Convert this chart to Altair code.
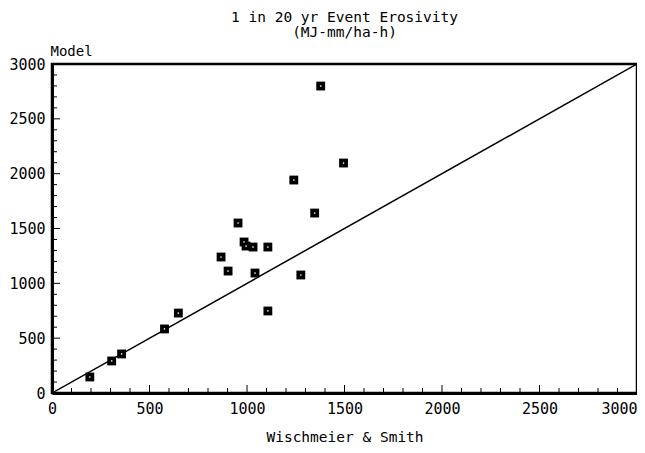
import altair as alt
import pandas as pd

# Data
ws = [194, 306, 357, 577, 648, 867, 903, 954, 985, 995, 1031, 1107, 1041, 1107, 1240, 1347, 1276, 1378, 1495]
model = [146, 292, 356, 584, 729, 1240, 1112, 1550, 1377, 1340, 1331, 1331, 1094, 748, 1942, 1641, 1076, 2799, 2097]
line_v = [0, 3000]
major_ticks = [0, 500, 1000, 1500, 2000, 2500, 3000]
minor_ticks = [100, 200, 300, 400, 600, 700, 800, 900, 1100, 1200, 1300, 1400,
               1600, 1700, 1800, 1900, 2100, 2200, 2300, 2400, 2600, 2700, 2800, 2900]

W, H = 585, 329
FONT = "DejaVu Sans Mono"

pts = pd.DataFrame({"x": ws, "y": model})
ln = pd.DataFrame({"x": line_v, "y": line_v})
mj = pd.DataFrame({"v": major_ticks})
mn = pd.DataFrame({"v": minor_ticks})

sx = alt.Scale(domain=[0, 3000], nice=False, zero=False)
sy = alt.Scale(domain=[0, 3000], nice=False, zero=False)

xaxis = alt.Axis(values=major_ticks, format="d", ticks=False, grid=False, domainColor="black",
                 domainWidth=3, labelFont=FONT, labelFontSize=15, labelColor="black",
                 labelPadding=8, title="Wischmeier & Smith", titleFont=FONT,
                 titleFontSize=14.5, titleFontWeight="normal", titleColor="black",
                 titlePadding=14, labelFlush=False,
                 labelAlign=alt.expr("datum.value == 3000 ? 'right' : 'center'"))
yaxis = alt.Axis(values=major_ticks, format="d", ticks=False, grid=False, domainColor="black",
                 domainWidth=3, labelFont=FONT, labelFontSize=15, labelColor="black",
                 labelPadding=7, title="Model", titleFont=FONT, titleFontSize=14,
                 titleFontWeight="normal", titleColor="black", titleAngle=0,
                 titleAlign="left", titleBaseline="middle", titleX=-2, titleY=-13,
                 labelFlush=False)

line = alt.Chart(ln).mark_line(color="black", strokeWidth=1.5, clip=True).encode(
    x=alt.X("x:Q", scale=sx, axis=xaxis),
    y=alt.Y("y:Q", scale=sy, axis=yaxis),
)

xminor = alt.Chart(mn).mark_rule(color="black", strokeWidth=1).encode(
    x=alt.X("v:Q", scale=sx), y=alt.value(H), y2=alt.value(H - 5))
xmajor = alt.Chart(mj).mark_rule(color="black", strokeWidth=1).encode(
    x=alt.X("v:Q", scale=sx), y=alt.value(H), y2=alt.value(H - 8))
yminor = alt.Chart(mn).mark_rule(color="black", strokeWidth=1).encode(
    y=alt.Y("v:Q", scale=sy), x=alt.value(0), x2=alt.value(5))
ymajor = alt.Chart(mj).mark_rule(color="black", strokeWidth=1).encode(
    y=alt.Y("v:Q", scale=sy), x=alt.value(0), x2=alt.value(8))

sq = alt.Chart(pts).mark_point(shape="square", filled=True, color="black",
                               size=78, opacity=1).encode(
    x=alt.X("x:Q", scale=sx), y=alt.Y("y:Q", scale=sy))
dots = alt.Chart(pts).mark_point(shape="cross", filled=True, color="white",
                                 size=3, angle=45, opacity=1).encode(
    x=alt.X("x:Q", scale=sx), y=alt.Y("y:Q", scale=sy))

chart = alt.layer(line, xminor, xmajor, yminor, ymajor, sq, dots).properties(
    width=W, height=H,
    background="white",
    title=alt.TitleParams(text=["1 in 20 yr Event Erosivity", "(MJ-mm/ha-h)"],
                          font=FONT, fontSize=14.5, fontWeight="normal", color="black",
                          anchor="middle", lineHeight=15, offset=4),
    autosize=alt.AutoSizeParams(type="none"),
    padding={"left": 44, "top": 56, "right": 0, "bottom": 50},
).configure_view(stroke="black", strokeWidth=2.5)

chart.save("out.html", embed_options={"renderer": "svg", "actions": False})
